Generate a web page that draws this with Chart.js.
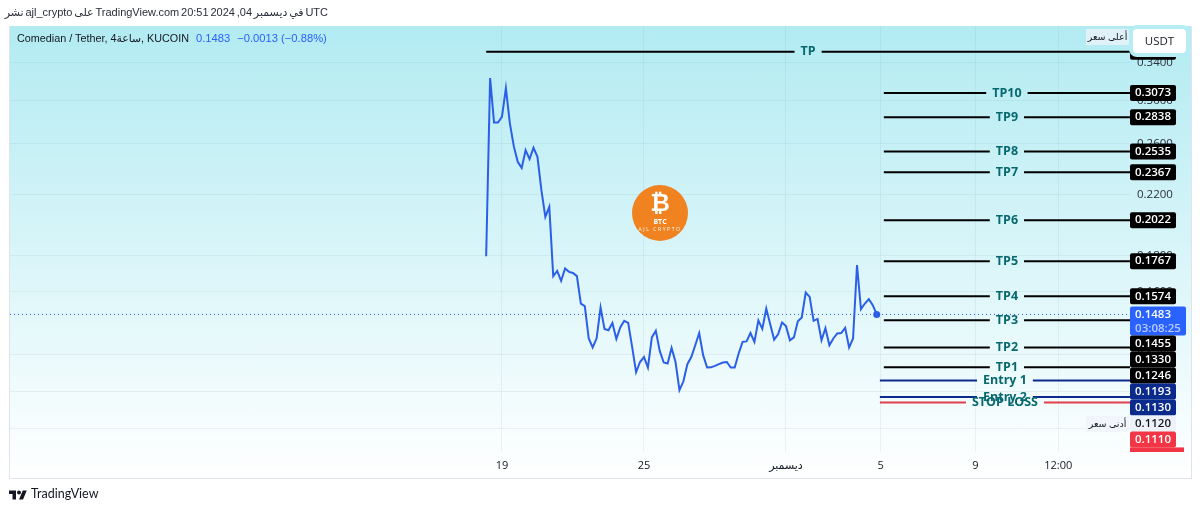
<!DOCTYPE html>
<html>
<head>
<meta charset="utf-8">
<title>Comedian / Tether</title>
<script src="https://cdn.jsdelivr.net/npm/chart.js@4"></script>
<style>
  html, body { margin: 0; padding: 0; background: #fff; }
  body { width: 1200px; height: 511px; position: relative; overflow: hidden; font-family: 'Open Sans', 'DejaVu Sans', sans-serif; color: #131722; }
  #panel { position: absolute; left: 9px; top: 26px; width: 1181px; height: 452px; border: 1px solid #e0e3eb; border-top: 0; background: linear-gradient(#b2ebf2, #ffffff); }
  #chart { position: absolute; left: 0; top: 0; }
  .txt { position: absolute; white-space: nowrap; }
  #published { right: 872px; top: 6px; font: 11px 'Liberation Sans', 'DejaVu Sans', sans-serif; word-spacing: -1.25px; color: #2a2e39; }
  #title { left: 17px; top: 32px; font: 10.8px 'Liberation Sans', 'DejaVu Sans', sans-serif; color: #131722; }
  #title span { color: #2962ff; margin-left: 4px; font-size: 11.2px; }
  #usdt { left: 1133px; top: 29px; width: 53px; height: 24px; line-height: 24px; background: #fff; border-radius: 4px; text-align: center; font-size: 11.5px; box-shadow: 0 0 0 4px #b6ecf3; }
  .hl { left: 1086px; width: 43px; height: 16px; line-height: 15px; font-size: 9.5px; text-align: center; color: #131722; background: rgba(240, 243, 250, .75); }
  #footerLogo { position: absolute; left: 9px; top: 488px; }
  #footerText { left: 31px; top: 486px; font: 12.5px Lato, sans-serif; color: #131722; }
  #badge { position: absolute; left: 632px; top: 185px; width: 56px; height: 56px; border-radius: 50%; background: #f0821f; color: #fff; text-align: center; }
  #badge b { position: absolute; left: 0; right: 0; top: 4px; font: bold 24px 'DejaVu Sans', sans-serif; }
  #badge i { position: absolute; left: 0; right: 0; top: 32px; font: bold 7px 'Open Sans', sans-serif; }
  #badge u { position: absolute; left: 0; right: 0; top: 41px; font: 5px 'Open Sans', sans-serif; text-decoration: none; letter-spacing: 1.6px; }
</style>
</head>
<body>
<div id="panel"></div>
<canvas id="chart" width="1200" height="511"></canvas>

<div class="txt" id="published" dir="rtl">UTC في ديسمبر 04, 2024 20:51 TradingView.com على ajl_crypto نشر</div>
<div class="txt" id="title">Comedian / Tether, 4ساعة, KUCOIN <span>0.1483</span> <span>−0.0013 (−0.88%)</span></div>
<div class="txt" id="usdt">USDT</div>
<div class="txt hl" style="top:29px">أعلى سعر</div>
<div class="txt hl" style="top:416px">أدنى سعر</div>
<div id="badge"><b>₿</b><i>BTC</i><u>AJL CRYPTO</u></div>
<svg id="footerLogo" width="18" height="14" viewBox="0 4 36 18"><path d="M14 22H7V11H0V4h14v18zM28 22h-8l7.5-18h8L28 22z" fill="#131722"/><circle cx="20" cy="8" r="4" fill="#131722"/></svg>
<div class="txt" id="footerText">TradingView</div>

<script>
// 4h closes, first one is 18 Nov 08:00
const closes = [
  0.1796, 0.3227, 0.2789, 0.2789, 0.2841, 0.3123, 0.2783, 0.2580, 0.2450, 0.2402,
  0.2546, 0.2472, 0.2566, 0.2491, 0.2232, 0.2044, 0.2113, 0.1682, 0.1711, 0.1656,
  0.1725, 0.1706, 0.1700, 0.1682, 0.1537, 0.1524, 0.1370, 0.1330, 0.1371, 0.1517,
  0.1414, 0.1408, 0.1442, 0.1368, 0.1421, 0.1452, 0.1442, 0.1333, 0.1226, 0.1268,
  0.1289, 0.1245, 0.1375, 0.1405, 0.1315, 0.1266, 0.1262, 0.1328, 0.1268, 0.1156,
  0.1190, 0.1259, 0.1289, 0.1340, 0.1395, 0.1297, 0.1245, 0.1246, 0.1252, 0.1259,
  0.1266, 0.1268, 0.1245, 0.1245, 0.1304, 0.1355, 0.1357, 0.1395, 0.1355, 0.1454,
  0.1414, 0.1512, 0.1436, 0.1365, 0.1389, 0.1444, 0.1427, 0.1362, 0.1375, 0.1450,
  0.1468, 0.1594, 0.1571, 0.1452, 0.1461, 0.1362, 0.1417, 0.1340, 0.1370, 0.1393,
  0.1395, 0.1419, 0.1330, 0.1370, 0.1745, 0.1509, 0.1537, 0.1559, 0.1529, 0.1483
];

const levelNames  = ['TP', 'TP10', 'TP9', 'TP8', 'TP7', 'TP6', 'TP5', 'TP4', 'TP3', 'TP2', 'TP1', 'Entry 1', 'Entry 2', 'STOP LOSS'];
const levelValues = [0.3520, 0.3073, 0.2838, 0.2535, 0.2367, 0.2022, 0.1767, 0.1574, 0.1455, 0.1330, 0.1246, 0.1193, 0.1130, 0.1110];
const levelStarts = [0, 100.8, 100.8, 100.8, 100.8, 100.8, 100.8, 100.8, 100.8, 100.8, 100.8, 99.8, 99.8, 99.8];
const levelColors = ['#000', '#000', '#000', '#000', '#000', '#000', '#000', '#000', '#000', '#000', '#000', '#0a2a8c', '#0a2a8c', '#e2404c'];

const priceTicks = [0.34, 0.30, 0.26, 0.22, 0.18, 0.16, 0.13, 0.115, 0.102];
const timeTicks = [4, 40, 76, 100, 124, 145];
const timeLabels = ['19', '25', 'ديسمبر', '5', '9', '12:00'];

const lastPrice = 0.1483;
const lowPrice = 0.1120;
const countdown = '03:08:25';

const X_MIN = -120.7, X_MAX = 163.2;
const PX_PER_X = 1120 / (X_MAX - X_MIN);
const LABEL_FONT = "bold 12.5px 'Open Sans', sans-serif";
const TAG_FONT = "600 11.5px 'Open Sans', sans-serif";

// lines stop around their label, same as the drawing tool does
const measureCtx = document.createElement('canvas').getContext('2d');
measureCtx.font = LABEL_FONT;

const levelDatasets = levelNames.map((name, i) => {
  const mid = (levelStarts[i] + X_MAX) / 2;
  const gap = (measureCtx.measureText(name).width / 2 + 6) / PX_PER_X;
  return {
    data: [
      { x: levelStarts[i], y: levelValues[i] },
      { x: mid - gap, y: levelValues[i] },
      { x: mid, y: null },
      { x: mid + gap, y: levelValues[i] },
      { x: X_MAX, y: levelValues[i] }
    ],
    borderColor: levelColors[i],
    borderWidth: 2,
    pointRadius: 0,
    spanGaps: false
  };
});

// price tags on the right axis, pushed down when they overlap
const priceTagsPlugin = {
  id: 'priceTags',
  afterDatasetsDraw(chart) {
    const { ctx, scales: { x, y }, chartArea } = chart;

    ctx.save();
    ctx.font = LABEL_FONT;
    ctx.textAlign = 'center';
    ctx.textBaseline = 'middle';
    ctx.fillStyle = '#07696f';
    levelNames.forEach((name, i) => {
      const mid = (levelStarts[i] + X_MAX) / 2;
      ctx.fillText(name, x.getPixelForValue(mid), y.getPixelForValue(levelValues[i]));
    });

    const tags = levelValues.map((v, i) => ({
      value: v,
      bg: i >= 13 ? '#f23645' : (i >= 11 ? '#0a2a8c' : '#000'),
      fg: '#fff'
    }));
    tags.push({ value: lastPrice, bg: '#2962ff', fg: '#fff', second: countdown });
    tags.push({ value: lowPrice, bg: '#eef1f8', fg: '#131722' });
    tags.sort((a, b) => b.value - a.value);

    ctx.beginPath();
    ctx.rect(0, 0, 1200, chartArea.bottom);
    ctx.clip();
    ctx.font = TAG_FONT;
    ctx.textAlign = 'center';
    const left = chartArea.right;
    let bottom = 0;
    tags.forEach(tag => {
      const h = tag.second ? 29 : 16;
      const w = tag.second ? 56 : 46;
      const top = Math.max(y.getPixelForValue(tag.value) - 8, bottom);
      ctx.fillStyle = tag.bg;
      ctx.beginPath();
      ctx.roundRect(left, top, w, h, 2);
      ctx.fill();
      ctx.fillStyle = tag.fg;
      if (tag.second) {
        ctx.fillText(tag.value.toFixed(4), left + 23, top + 8);
        ctx.fillStyle = '#b9cdff';
        ctx.fillText(tag.second, left + 28, top + 22);
      } else {
        ctx.fillText(tag.value.toFixed(4), left + w / 2, top + 8);
      }
      bottom = top + h;
    });
    // countdown of the red tag is cut off by the time axis
    ctx.fillStyle = '#f23645';
    ctx.fillRect(left, bottom, 54, 8);
    ctx.restore();
  }
};

const ctx = document.getElementById('chart').getContext('2d');
new Chart(ctx, {
  type: 'line',
  plugins: [priceTagsPlugin],
  data: {
    datasets: [
      {
        data: [{ x: X_MIN, y: lastPrice }, { x: X_MAX, y: lastPrice }],
        borderColor: '#2456d8',
        borderWidth: 1,
        borderDash: [1, 3],
        pointRadius: 0
      },
      ...levelDatasets,
      {
        data: closes.map((c, i) => ({ x: i, y: c })),
        borderColor: '#2b5fe8',
        borderWidth: 2,
        tension: 0,
        pointBackgroundColor: '#2b5fe8',
        pointBorderWidth: 0,
        pointRadius: c => (c.dataIndex === closes.length - 1 ? 3.5 : 0)
      }
    ]
  },
  options: {
    responsive: false,
    animation: false,
    layout: { padding: { left: 10, top: 26, right: 0, bottom: 0 } },
    plugins: { legend: { display: false }, tooltip: { enabled: false } },
    scales: {
      x: {
        type: 'linear',
        min: X_MIN,
        max: X_MAX,
        afterBuildTicks: axis => { axis.ticks = timeTicks.map(v => ({ value: v })); },
        afterFit: axis => { axis.height = 59; },
        grid: { color: 'rgba(120, 160, 175, 0.12)', drawTicks: false },
        border: { display: false },
        ticks: {
          autoSkip: false,
          maxRotation: 0,
          padding: 7,
          color: '#131722',
          font: { family: "'Open Sans', 'DejaVu Sans', sans-serif", size: 11 },
          callback: v => timeLabels[timeTicks.indexOf(v)]
        }
      },
      y: {
        type: 'logarithmic',
        position: 'right',
        min: 0.0943,
        max: 0.3831,
        afterBuildTicks: axis => { axis.ticks = priceTicks.map(v => ({ value: v })); },
        afterFit: axis => { axis.width = 70; },
        grid: { color: 'rgba(120, 160, 175, 0.12)', drawTicks: false },
        border: { display: false },
        ticks: {
          autoSkip: false,
          padding: 7,
          color: '#2a2e39',
          font: { family: "'Open Sans', sans-serif", size: 11.5 },
          callback: v => v.toFixed(4)
        }
      }
    }
  }
});
</script>
</body>
</html>
